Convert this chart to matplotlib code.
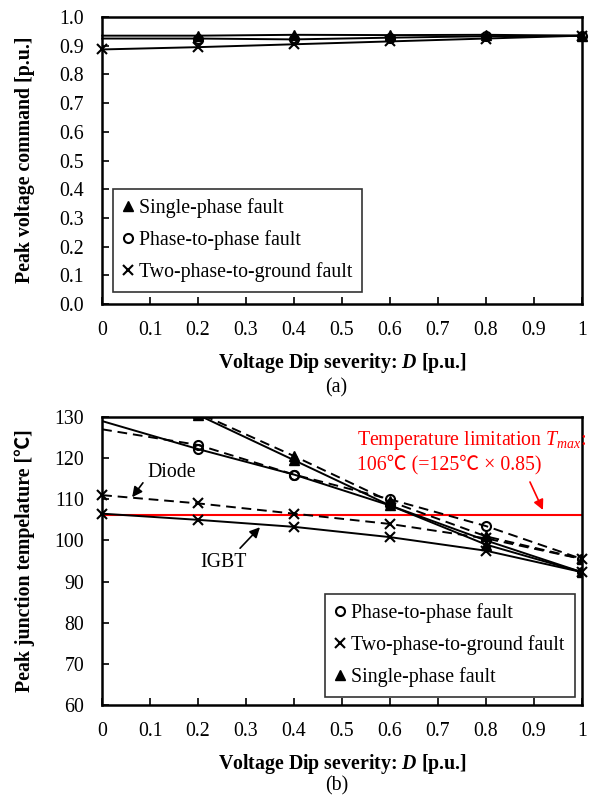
import matplotlib
matplotlib.use("Agg")
import matplotlib.pyplot as plt
from matplotlib.lines import Line2D

plt.rcParams['font.family'] = ['Liberation Serif', 'Noto Sans CJK JP', 'DejaVu Serif']
plt.rcParams['mathtext.fontset'] = 'custom'
plt.rcParams['mathtext.rm'] = 'Liberation Serif'
plt.rcParams['mathtext.it'] = 'Liberation Serif:italic'
plt.rcParams['mathtext.bf'] = 'Liberation Serif:bold'
plt.rcParams['mathtext.bfit'] = 'Liberation Serif:italic:bold'

# ---- data ----
D = [0, 0.2, 0.4, 0.6, 0.8, 1.0]

# (a) peak voltage command
v_single = [0.935, 0.935, 0.938, 0.937, 0.938, 0.935]
v_phase = [0.925, 0.925, 0.922, 0.928, 0.933, 0.935]
v_ground = [0.887, 0.895, 0.905, 0.915, 0.925, 0.935]

# (b) peak junction temperature
t_single_igbt = [141.0, 130.5, 119.5, 108.5, 99.0, 92.3]
t_single_diode = [140.0, 131.0, 120.5, 109.5, 101.0, 95.5]
t_phase_igbt = [129.0, 122.2, 116.0, 108.5, 100.0, 92.3]
t_phase_diode = [127.0, 123.2, 116.0, 110.0, 103.5, 95.5]
t_ground_igbt = [106.5, 105.0, 103.3, 100.8, 97.5, 92.3]
t_ground_diode = [111.0, 109.0, 106.5, 104.0, 100.5, 95.5]
t_max = 106.25

fs = 14.3
ms = 6.5
lw = 1.4
dash = (0, (5, 3))

fig = plt.figure(figsize=(6.01, 7.95), dpi=100)
ax1 = fig.add_axes([0.170, 0.6176, 0.798, 0.361])
ax2 = fig.add_axes([0.170, 0.1132, 0.798, 0.3623])


def style(ax):
    for s in ax.spines.values():
        s.set_linewidth(1.8)
    ax.tick_params(axis='both', direction='in', labelsize=fs, length=5, width=1.2)
    ax.tick_params(axis='x', pad=12)
    ax.tick_params(axis='y', pad=13)
    ax.set_xlim(0, 1)
    ax.set_xticks([i / 10 for i in range(11)])
    ax.set_xticklabels(['0', '0.1', '0.2', '0.3', '0.4', '0.5', '0.6', '0.7', '0.8', '0.9', '1'])
    ax.set_xlabel(r'Voltage Dip severity: $\mathbfit{D}$ [p.u.]', fontsize=fs,
                  fontweight='bold', labelpad=8.5)


# ---- (a) ----
ax1.plot(D, v_single, color='black', lw=lw, marker='^', ms=ms, markevery=[1, 2, 3, 4, 5],
         clip_on=False, zorder=3)
ax1.plot(D, v_phase, color='black', lw=lw, marker='o', ms=ms, mfc='none', mew=1.5,
         markevery=[1, 2, 3, 4, 5], clip_on=False, zorder=3)
ax1.plot(D, v_ground, color='black', lw=lw, marker='x', ms=ms, mew=1.5, clip_on=False, zorder=3)
style(ax1)
ax1.set_ylim(0, 1.0)
ax1.set_yticks([i / 10 for i in range(11)])
ax1.set_yticklabels(['%.1f' % (i / 10) for i in range(11)])
fig.text(25 / 601, 1 - 160 / 795, 'Peak voltage command [p.u.]', fontsize=fs, fontweight='bold',
         rotation=90, ha='center', va='center')

h1 = [Line2D([], [], ls='none', marker='^', color='black', ms=ms),
      Line2D([], [], ls='none', marker='o', color='black', mfc='none', mew=1.5, ms=ms),
      Line2D([], [], ls='none', marker='x', color='black', mew=1.5, ms=ms)]
leg1 = ax1.legend(h1, ['Single-phase fault', 'Phase-to-phase fault', 'Two-phase-to-ground fault'],
                  loc='lower left', bbox_to_anchor=(0.023, 0.042), fontsize=fs, frameon=True,
                  fancybox=False, edgecolor='black', handlelength=0.5, handletextpad=0.3,
                  labelspacing=0.6, borderpad=0.5, borderaxespad=0)
leg1.get_frame().set_linewidth(1.2)

# ---- (b) ----
ax2.axhline(t_max, color='red', lw=1.5, zorder=2)
ax2.plot(D, t_single_igbt, color='black', lw=lw, marker='^', ms=ms, markevery=[1, 2, 3, 4, 5], zorder=3)
ax2.plot(D, t_single_diode, color='black', lw=lw, ls=dash, marker='^', ms=ms,
         markevery=[1, 2, 3, 4, 5], zorder=3)
ax2.plot(D, t_phase_igbt, color='black', lw=lw, marker='o', ms=ms, mfc='none', mew=1.5,
         markevery=[1, 2, 3, 4, 5], zorder=3)
ax2.plot(D, t_phase_diode, color='black', lw=lw, ls=dash, marker='o', ms=ms, mfc='none',
         mew=1.5, markevery=[1, 2, 3, 4, 5], zorder=3)
ax2.plot(D, t_ground_igbt, color='black', lw=lw, marker='x', ms=ms, mew=1.5, clip_on=False, zorder=3)
ax2.plot(D, t_ground_diode, color='black', lw=lw, ls=dash, marker='x', ms=ms, mew=1.5,
         clip_on=False, zorder=3)
style(ax2)
ax2.set_ylim(60, 130)
ax2.set_yticks(range(60, 131, 10))
fig.text(25 / 601, 1 - 561 / 795, 'Peak junction tempelature [℃]', fontsize=fs, fontweight='bold',
         rotation=90, ha='center', va='center')

arrow_k = dict(arrowstyle='-|>', lw=1.2, shrinkA=0, shrinkB=0, mutation_scale=15)
ax2.text(0.146, 116.4, 'Diode', fontsize=fs, ha='center', va='center')
ax2.annotate('', xy=(0.0625, 110.5), xytext=(0.085, 114.0), arrowprops=dict(color='black', **arrow_k))
ax2.text(0.252, 94.7, 'IGBT', fontsize=fs, ha='center', va='center')
ax2.annotate('', xy=(0.329, 103.2), xytext=(0.2875, 98.1), arrowprops=dict(color='black', **arrow_k))

ax2.text(0.531, 124.4, r'Temperature limitation $T_{max}$:', color='red', fontsize=fs,
         ha='left', va='center')
ax2.text(0.531, 118.3, '106℃ (=125℃ × 0.85)', color='red', fontsize=fs, ha='left', va='center')
ax2.annotate('', xy=(0.919, 107.4), xytext=(0.892, 114.2), arrowprops=dict(color='red', **arrow_k))

h2 = [Line2D([], [], ls='none', marker='o', color='black', mfc='none', mew=1.5, ms=ms),
      Line2D([], [], ls='none', marker='x', color='black', mew=1.5, ms=ms),
      Line2D([], [], ls='none', marker='^', color='black', ms=ms)]
leg2 = ax2.legend(h2, ['Phase-to-phase fault', 'Two-phase-to-ground fault', 'Single-phase fault'],
                  loc='lower right', bbox_to_anchor=(0.985, 0.028), fontsize=fs, frameon=True,
                  fancybox=False, edgecolor='black', handlelength=0.5, handletextpad=0.3,
                  labelspacing=0.6, borderpad=0.5, borderaxespad=0)
leg2.get_frame().set_linewidth(1.2)

fig.text(0.56, 1 - 388 / 795, '(a)', fontsize=fs, ha='center', va='center')
fig.text(0.56, 1 - 786 / 795, '(b)', fontsize=fs, ha='center', va='center')

fig.savefig('out.png', dpi=100)
